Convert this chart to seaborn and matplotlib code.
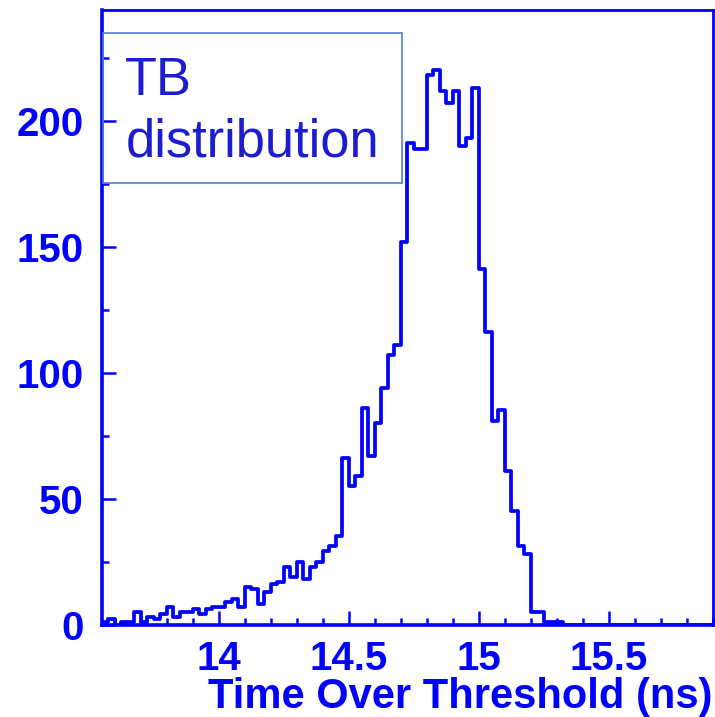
import numpy as np
import pandas as pd
import matplotlib
matplotlib.use("Agg")
import matplotlib.pyplot as plt
import seaborn as sns
from matplotlib.patches import Rectangle
from matplotlib.ticker import MultipleLocator

# histogram: first bin edge, bin width (ns), counts per bin
tot_start = 13.55
bin_width = 0.025
counts_below_14 = [1, 2, 0, 1, 1, 5, 1, 3, 2, 4, 7, 3, 5, 5, 6, 4, 6, 7]
counts_from_14 = [7, 9, 10, 7, 15, 14, 8, 13, 16, 17, 23, 19, 25, 18, 23, 25,
                  29, 31, 35, 66, 55, 59, 86, 67, 80, 94, 107, 111, 152, 191,
                  189, 189, 218, 220, 212, 207, 212, 190, 193, 213, 141, 116,
                  81, 85, 61, 45, 31, 28, 5, 5, 1, 1, 1]
counts_tail = [0] * 23

x_ticks = [14, 14.5, 15, 15.5]
y_ticks = [0, 50, 100, 150, 200]
x_range = (13.55, 15.9)
y_range = (0, 244)
legend_text = "TB\ndistribution"
x_title = "Time Over Threshold (ns)"

counts = counts_below_14 + counts_from_14 + counts_tail
edges = tot_start + bin_width * np.arange(len(counts) + 1)
df = pd.DataFrame({"tot": (edges[:-1] + edges[1:]) / 2, "n": counts})

sns.set_style("white")
plt.rcParams["font.family"] = ["Liberation Sans", "DejaVu Sans"]

blue = "#0000ff"
fig = plt.figure(figsize=(7.15, 7.17), dpi=100)
ax = fig.add_axes([101.5 / 715, 1 - 624.5 / 717, 611.5 / 715, 614.5 / 717])

sns.histplot(data=df, x="tot", weights="n", bins=edges.tolist(),
             element="step", fill=False, color=blue, linewidth=2.7, ax=ax)

ax.set_xlim(*x_range)
ax.set_ylim(*y_range)
ax.set_xticks(x_ticks)
ax.set_xticklabels(["14", "14.5", "15", "15.5"])
ax.set_yticks(y_ticks)
ax.xaxis.set_minor_locator(MultipleLocator(0.1))
ax.yaxis.set_minor_locator(MultipleLocator(25))
ax.set_ylabel("")

for side, sp in ax.spines.items():
    sp.set_color(blue)
    sp.set_linewidth(2.6 if side in ("left", "bottom") else 2.0)

ax.tick_params(which="both", direction="in", colors=blue, width=1.8,
               labelsize=29, bottom=True, left=True, top=False, right=False)
ax.tick_params(which="major", length=10)
ax.tick_params(which="minor", length=5)
ax.tick_params(axis="x", pad=11)
ax.tick_params(axis="y", pad=13)
for lab in ax.get_xticklabels() + ax.get_yticklabels():
    lab.set_fontweight("bold")

ax.set_xlabel(x_title, loc="right", fontsize=30, fontweight="bold", color=blue)
ax.xaxis.set_label_coords(1.0, -0.086)

# text box top left
ax.add_patch(Rectangle((0.002, 0.719), 0.489, 0.243, transform=ax.transAxes,
                       fill=False, edgecolor="#4f7fd6", linewidth=1.2,
                       zorder=3))
ax.text(0.039, 0.925, legend_text, transform=ax.transAxes, ha="left",
        va="top", fontsize=37.8, color="#1c1cd0", linespacing=1.29)

fig.savefig("out.png", dpi=100, facecolor="white")
